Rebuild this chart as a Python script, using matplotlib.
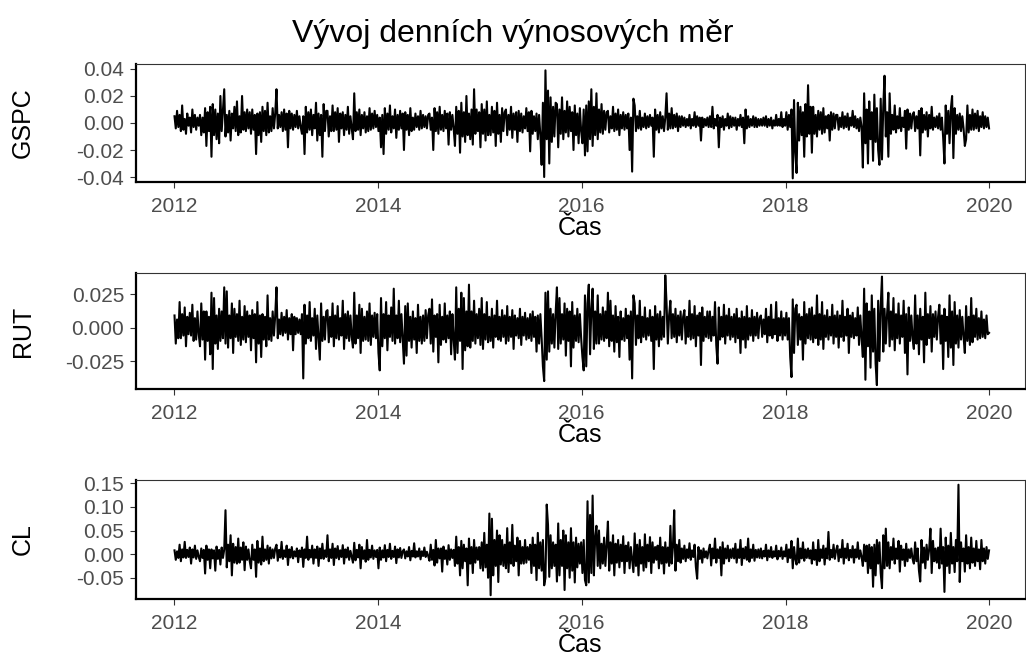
import numpy as np
import pandas as pd
import matplotlib
matplotlib.use("Agg")
import matplotlib.pyplot as plt
import matplotlib.dates as mdates
from matplotlib.ticker import FormatStrFormatter

plt.rcParams['font.family'] = ['Liberation Sans', 'DejaVu Sans']
plt.rcParams['axes.unicode_minus'] = False

# Daily returns, 20 points per quarter (one row = one quarter,
# 2012Q1 .. 2019Q4), in 1/1000
gspc = [
    5, -4, 9, -3, 6, -6, 13, -5, 3, -8, 7, -2, 4, -7, 10, -3, 6, -5, 4, -2,
    6, -9, 4, -7, 11, -17, 8, -6, 12, -25, 14, -9, 10, -12, 7, -15, 20, -6, 9, 25,
    -10, 6, -7, 9, -13, 7, -4, 12, -6, 16, -9, 5, -7, 20, -5, 8, -6, 10, -4, 8,
    -8, 10, -5, 6, -23, 7, -9, 8, -14, 12, -6, 9, -9, 15, -7, 5, -6, 11, -4, 7,
    25, -4, 6, -3, 8, -6, 10, -5, 7, -18, 9, -4, 7, -5, 6, -3, 9, -4, 5, -3,
    -8, 5, -23, 12, -7, 8, -5, 10, -9, 6, -4, 15, -13, 7, -9, 6, -25, 14, -6, 9,
    9, -10, 5, -6, 13, -6, 8, -5, 11, -14, 7, -4, 8, -9, 6, -5, 12, -8, 5, -4,
    -12, 22, -6, 8, -5, 10, -9, 6, -4, 8, -7, 5, -6, 11, -5, 7, -4, 9, -3, 6,
    -6, 4, -18, 6, -23, 11, -8, 7, -5, 13, -7, 5, -4, 10, -11, 6, -5, 9, -4, 7,
    -20, 8, -5, 6, -9, 11, -6, 4, -5, 7, -3, 5, -5, 9, -4, 6, -3, 5, -4, 6,
    7, -5, 4, -20, 11, -6, 8, -8, 12, -5, 6, -6, 9, -4, 7, -16, 8, -5, 6, -4,
    -17, 12, -8, 9, -22, 15, -10, 8, -14, 20, -9, 7, -12, 10, -16, 25, -8, 10, -6, 8,
    -18, 14, -8, 10, -13, 16, -9, 6, -9, 12, -7, 9, -17, 15, -8, 6, -14, 11, -6, 8,
    10, -9, 6, -5, 12, -11, 7, -5, 8, -14, 9, -6, 7, -7, 5, -4, 11, -6, 8, -21,
    9, -8, 5, -6, 7, -12, 6, -9, -31, 15, -40, 39, -12, 24, -30, 19, -14, 12, -10, 15,
    14, -18, 10, -8, 19, -12, 9, -7, 16, -10, 12, -6, 8, -20, 13, -9, 7, -15, 11, -6,
    -15, 10, -24, 13, -21, 16, -12, 25, -17, 12, -9, 22, -12, 10, -7, 14, -8, 9, -5, 8,
    9, -7, 5, -4, 12, -6, 7, -5, 10, -9, 6, -4, 8, -5, 6, -4, 7, -20, 4, -36,
    18, 13, -6, 5, -4, 9, -5, 4, -3, 7, -4, 5, -3, 6, -2, 4, -25, 10, -5, 6,
    -7, 8, -4, 5, -6, 4, 22, -5, 7, -4, 11, -4, 6, -3, 7, -6, 5, -3, 5, -2,
    4, -3, 3, -2, 6, -4, 3, -2, 8, -3, 5, -2, 4, -13, 4, -3, 3, -2, 4, -3,
    5, -3, 12, -4, 3, -2, 6, -18, 4, -3, 5, -5, 3, -2, 7, -4, 5, -3, 4, -2,
    4, -5, 3, -2, 6, -3, 4, -15, 10, -4, 5, -3, 3, -2, 5, -3, 4, -3, 3, -2,
    3, -2, 4, -2, 5, -3, 3, -2, 4, -4, 2, -2, 6, -2, 3, -2, 8, -3, 3, -2,
    8, -5, 6, -3, 10, -41, 17, -22, -37, 15, -13, 12, -9, 8, -25, 14, -10, 28, -8, 12,
    -22, 12, -8, 6, -10, 9, -5, 8, -8, 11, -7, 5, -4, 6, -13, 8, -5, 7, -4, 6,
    6, -5, 4, -3, 8, -4, 5, -3, 7, -5, 4, -2, 9, -3, 5, -4, 3, -6, 4, -3,
    -33, 22, -15, 10, -30, 16, -12, 8, -28, 21, -14, 11, -20, -31, 18, -27, 12, 35, -10, 8,
    -25, 22, -8, 6, -5, 13, -7, 5, -4, 11, -6, 4, -3, 9, -19, 10, -5, 7, -4, 6,
    8, -6, 5, -4, 9, -24, 11, -7, 6, -5, 8, -10, 6, -4, 12, -5, 4, -3, 5, -4,
    7, -5, 4, -11, -30, 13, -8, 9, -15, 10, 20, -26, 11, -8, 6, -5, 7, -6, 5, -4,
    -17, -12, 13, -7, 6, -5, 10, -5, 7, -4, 9, -6, 5, -3, 8, -4, 5, -3, 4, -4,
]

rut = [
    9, -12, 6, -8, 19, -8, 10, -6, 15, -14, 8, -5, 11, -6, 17, -10, 7, -9, 12, -5,
    -14, 18, -9, 12, -24, 12, -10, 8, -20, 26, -31, 22, -12, 9, -16, 14, -10, 12, -8, 30,
    -12, 27, -15, 9, -8, 18, -19, 14, -7, 10, -10, 20, -13, 8, -9, 16, -11, 12, -7, 9,
    -17, 13, -8, 10, -26, 19, -12, 9, -22, 10, -9, 8, -14, 24, -9, 7, -10, 12, -6, 9,
    30, -8, 6, -5, 11, -6, 8, -4, 13, -9, 7, -5, 10, -17, 8, -5, 7, -4, 6, -5,
    10, -38, 17, -12, 9, -8, 19, -10, 7, -6, 14, -16, 9, -7, -24, 18, -10, 8, -9, 12,
    13, -11, 8, -7, 18, -14, 9, -8, 16, -9, 7, -6, 20, -16, 10, -8, 12, -10, 9, -7,
    -15, 26, -12, 9, -8, 17, -19, 14, -10, 8, -9, 12, -10, 18, -13, 9, -7, 11, -8, 10,
    -19, -32, 22, -14, 10, -8, 19, -17, 9, -7, 15, -10, 29, -12, 9, -8, 20, -11, 10, -9,
    -27, 16, -21, 18, -10, 8, -15, 12, -9, 7, -19, 17, -10, 8, -12, 9, -10, 13, -8, 9,
    14, -12, 21, -18, 9, -7, 10, -26, 17, -13, 8, -9, 18, -11, 9, -8, 12, -20, 10, -9,
    -24, 30, -19, 14, -10, 26, -31, 22, -17, 12, -14, 32, -15, 12, -10, 20, -12, 10, -8, 14,
    -13, 22, -16, 10, -9, 19, -11, 8, -10, 14, -15, 9, -7, 20, -9, 8, -10, 13, -7, 9,
    -12, 16, -10, 8, -7, 13, -16, 9, -6, 7, -8, 14, -13, 8, -6, 11, -9, 7, -8, 10,
    -10, 12, -7, 8, -18, 9, -12, 10, -8, -29, -40, 26, -24, 27, -18, 14, -12, 10, -15, 11,
    30, -16, 22, -12, 10, -9, 18, -21, 14, -10, 12, -29, 19, -15, 9, -10, 14, -11, 10, -8,
    -22, -32, 24, -29, 18, 32, -20, 14, 29, -16, 12, -12, 24, -12, 10, -9, 15, -10, 12, -8,
    26, -14, 20, -10, 9, -18, 16, -11, 8, -22, 12, -9, 7, -10, 14, -8, 9, -24, 12, -38,
    24, 18, -13, 9, -8, 20, -11, 8, -7, 15, -9, 7, -6, 13, -10, 8, -31, 16, -9, 10,
    -14, 12, -9, 8, -7, 39, 18, -12, 9, 20, -8, 10, -7, 14, -11, 9, -6, 12, -9, 8,
    13, -12, 8, -7, 20, -9, 10, -8, 16, -14, 9, -6, 11, -28, 15, -10, 8, -7, 12, -8,
    12, -10, 8, -6, 19, -13, -27, 15, -9, 8, -7, 17, -12, 9, -6, 14, -9, 8, -7, 10,
    -11, 14, -8, 7, -19, 12, -9, 8, -15, 16, -9, 7, -6, 13, -10, 8, -6, 11, -8, 7,
    9, -7, 6, -5, 14, -11, 8, -6, 17, -8, 6, -5, 19, -10, 7, -6, 12, -9, 7, -6,
    11, -9, 7, -22, -37, 21, -19, 14, 17, -13, 10, -9, 8, -24, 19, -12, 10, -8, 14, -9,
    15, -11, 9, -8, 24, -13, 10, -9, 19, -16, 9, -7, 13, -9, 8, -6, 17, -12, 9, -7,
    12, -15, 9, -7, 20, -10, 8, -6, 14, -19, 9, -7, 11, -8, 7, -6, 15, -13, 9, -8,
    -22, 29, -39, 18, -14, 12, -30, 24, -18, 14, -27, -43, 20, -25, 16, 38, -18, 14, -12, 10,
    26, -14, 12, -9, 22, -17, 10, -8, 18, -12, 9, -7, 20, -19, 10, -35, 15, -10, 9, -8,
    -16, 24, -12, 9, -20, 14, -9, 8, -26, 26, -13, 10, -8, 16, -18, 10, -7, 12, -9, 8,
    17, -12, 9, -31, 14, -10, 8, -22, 24, -15, 12, -28, 19, -12, 9, -15, 13, -9, 8, -7,
    -19, 16, -10, 8, -13, 22, -11, 9, -7, 14, -9, 7, -8, 12, -7, 6, -8, 9, -5, -4,
]

cl = [
    8, -12, 6, -8, 20, -15, 10, -7, 26, -8, 9, -6, 14, -20, 10, -7, 18, -10, 8, -6,
    -15, 12, -8, 9, -41, 18, -12, 10, -30, 10, -9, 8, -35, 16, -10, 9, -22, 14, -8, 10,
    93, -28, 20, -15, 40, -45, 22, -18, 15, -20, 33, -18, 14, -12, 25, -34, 16, -12, 10, -15,
    -30, 20, -12, 10, -48, 28, -18, 12, -22, 37, -15, 10, -12, 18, -20, 14, -9, 10, -8, 12,
    20, -14, 9, -7, 26, -10, 8, -6, 18, -23, 10, -7, 15, -9, 6, -5, 12, -17, 8, -6,
    14, -27, 10, -8, 37, -12, 9, -7, 18, -20, 10, -8, 16, -25, 12, -9, 22, -10, 8, -6,
    40, -15, 10, -8, 22, -23, 12, -8, 17, -11, 8, -6, 19, -20, 10, -7, 14, -12, 7, -6,
    -18, 24, -13, 9, -7, 20, -30, 15, -10, 8, -16, 30, -12, 9, -7, 18, -10, 8, -6, 9,
    -30, 14, -12, 8, -7, 19, -15, 9, -6, 22, -10, 7, -6, 16, -19, 10, -7, 13, -8, 6,
    10, -9, 6, -5, 15, -13, 7, -5, 23, -7, 6, -5, 12, -11, 6, -4, 14, -6, 5, -4,
    -14, 20, -12, 9, -24, 30, -18, 12, -9, 12, -37, 16, -10, 8, -22, 19, -12, 10, -8, 9,
    -25, 37, -20, 15, -45, 28, -30, 20, -15, 12, -66, 33, -20, 15, -40, 30, -18, 14, -12, 15,
    -30, 25, -35, 45, -28, 20, -50, 86, -87, 75, -45, 30, -25, 50, -59, 40, -22, 30, -25, 20,
    -30, 55, -38, 25, -20, 62, -25, 18, -15, 35, -45, 28, -20, 15, -20, 30, -18, 15, -12, 20,
    -40, 35, -25, 20, -55, 45, -30, 25, -35, 30, -66, -50, 105, 62, -48, 40, -30, 25, -25, 20,
    -58, 65, -45, 30, -25, 50, -76, 40, -30, 25, -50, 55, -35, 25, -60, 35, -28, 22, -20, 25,
    -40, 30, -55, -66, 112, -60, 83, -40, 124, -45, 35, 60, -25, 50, -30, 22, -20, 35, -25, 20,
    69, -35, 25, -20, 40, -45, 22, -18, 30, -28, 20, -15, 38, -40, 18, -15, 25, -30, 15, -12,
    -38, 44, -25, 20, -45, 30, -20, 15, -35, 42, -28, 20, -15, 36, -40, 25, -18, 15, -12, 18,
    -30, 35, -20, 15, -41, 25, -18, 14, -25, 60, -20, 15, 93, -35, 20, -15, 30, -18, 12, -10,
    18, -15, 10, -8, 23, -12, 8, -6, 20, -27, -52, 15, -10, 8, -18, 12, -7, 6, -9, 8,
    20, -24, 12, -9, 33, -18, 10, -8, 15, -45, 25, -20, 12, -9, 18, -15, 10, -8, 12, -9,
    22, -18, 10, -8, 30, -23, 12, -9, 15, -12, 33, -16, 10, -8, 20, -14, 9, -7, 10, -8,
    12, -9, 7, -5, 20, -13, 8, -6, 15, -8, 6, -5, 18, -11, 7, -5, 14, -10, 6, -5,
    20, -17, 10, -8, 28, -30, 15, -10, -22, 33, -18, 12, -9, 25, -14, 10, -8, 12, -9, 8,
    -20, 25, -12, 9, -23, 30, -15, 10, -8, 18, -22, 12, -9, 47, -12, 9, -7, 20, -10, 8,
    18, -15, 10, -7, 30, -20, 12, -8, 22, -13, 9, -7, 17, -18, 10, -7, 25, -10, 8, -6,
    -25, 20, -15, 18, -40, 20, -30, 15, -69, 20, -45, 30, -20, 25, -40, -72, 40, -30, 54, -25,
    25, -30, 15, -12, 33, -20, 12, -10, 28, -37, 18, -12, 10, -25, 22, -15, 10, -8, 12, -10,
    -20, 25, -15, 12, -35, -58, 30, -18, 14, -30, 20, -12, 10, 54, -40, 28, -15, 12, -18, 14,
    -30, 54, -20, 15, -80, 35, -25, 18, -40, 45, -20, 15, -38, 30, -15, 147, -59, 25, -15, 12,
    -37, 40, -20, 15, -30, 35, -18, 12, -25, 28, -15, 10, -32, 30, -15, 12, -20, 15, -10, 8,
]

first_day = "2012-01-03"
last_day = "2019-12-31"
names = ["GSPC", "RUT", "CL"]
yticks = [[-0.04, -0.02, 0.0, 0.02, 0.04], [-0.025, 0.0, 0.025], [-0.05, 0.0, 0.05, 0.10, 0.15]]
yfmt = ["%.2f", "%.3f", "%.2f"]
ylims = [(-0.0437, 0.0437), (-0.0459, 0.0407), (-0.095, 0.157)]
title = "Vývoj denních výnosových měr"
xlab = "Čas"

W, H = 1026, 658
fig = plt.figure(figsize=(W / 100, H / 100), dpi=100)

# panel boxes in pixels: (top, bottom)
boxes = [(64, 182), (273, 389), (480, 599)]
left_px, right_px = 136, 1024.5

for i, series in enumerate([gspc, rut, cl]):
    top, bot = boxes[i]
    ax = fig.add_axes([left_px / W, 1 - bot / H, (right_px - left_px) / W, (bot - top) / H])
    vals = np.array(series) / 1000.0
    dates = pd.date_range(first_day, last_day, periods=len(vals))
    ax.plot(dates, vals, color="black", lw=1.5)

    ax.set_xlim(pd.Timestamp("2011-08-18"), pd.Timestamp("2020-05-06"))
    ax.set_ylim(*ylims[i])
    ax.set_yticks(yticks[i])
    ax.yaxis.set_major_formatter(FormatStrFormatter(yfmt[i]))
    ax.xaxis.set_major_locator(mdates.YearLocator(2))
    ax.xaxis.set_major_formatter(mdates.DateFormatter("%Y"))

    ax.tick_params(axis="both", colors="#333333", labelcolor="#4D4D4D",
                   labelsize=15, length=4.5, width=0.8)
    ax.tick_params(axis="x", pad=6)
    ax.tick_params(axis="y", pad=4)

    for s in ["top", "right"]:
        ax.spines[s].set_color("#333333")
        ax.spines[s].set_linewidth(0.8)
    for s in ["left", "bottom"]:
        ax.spines[s].set_color("black")
        ax.spines[s].set_linewidth(1.6)

    ax.set_xlabel(xlab, fontsize=18, labelpad=0)
    fig.text(23 / W, 1 - (top + bot) / 2 / H, names[i], rotation=90,
             ha="center", va="center", fontsize=18)

fig.text(0.5, 1 - 42 / H, title, ha="center", va="baseline", fontsize=23)

fig.savefig("out.png", dpi=100)
